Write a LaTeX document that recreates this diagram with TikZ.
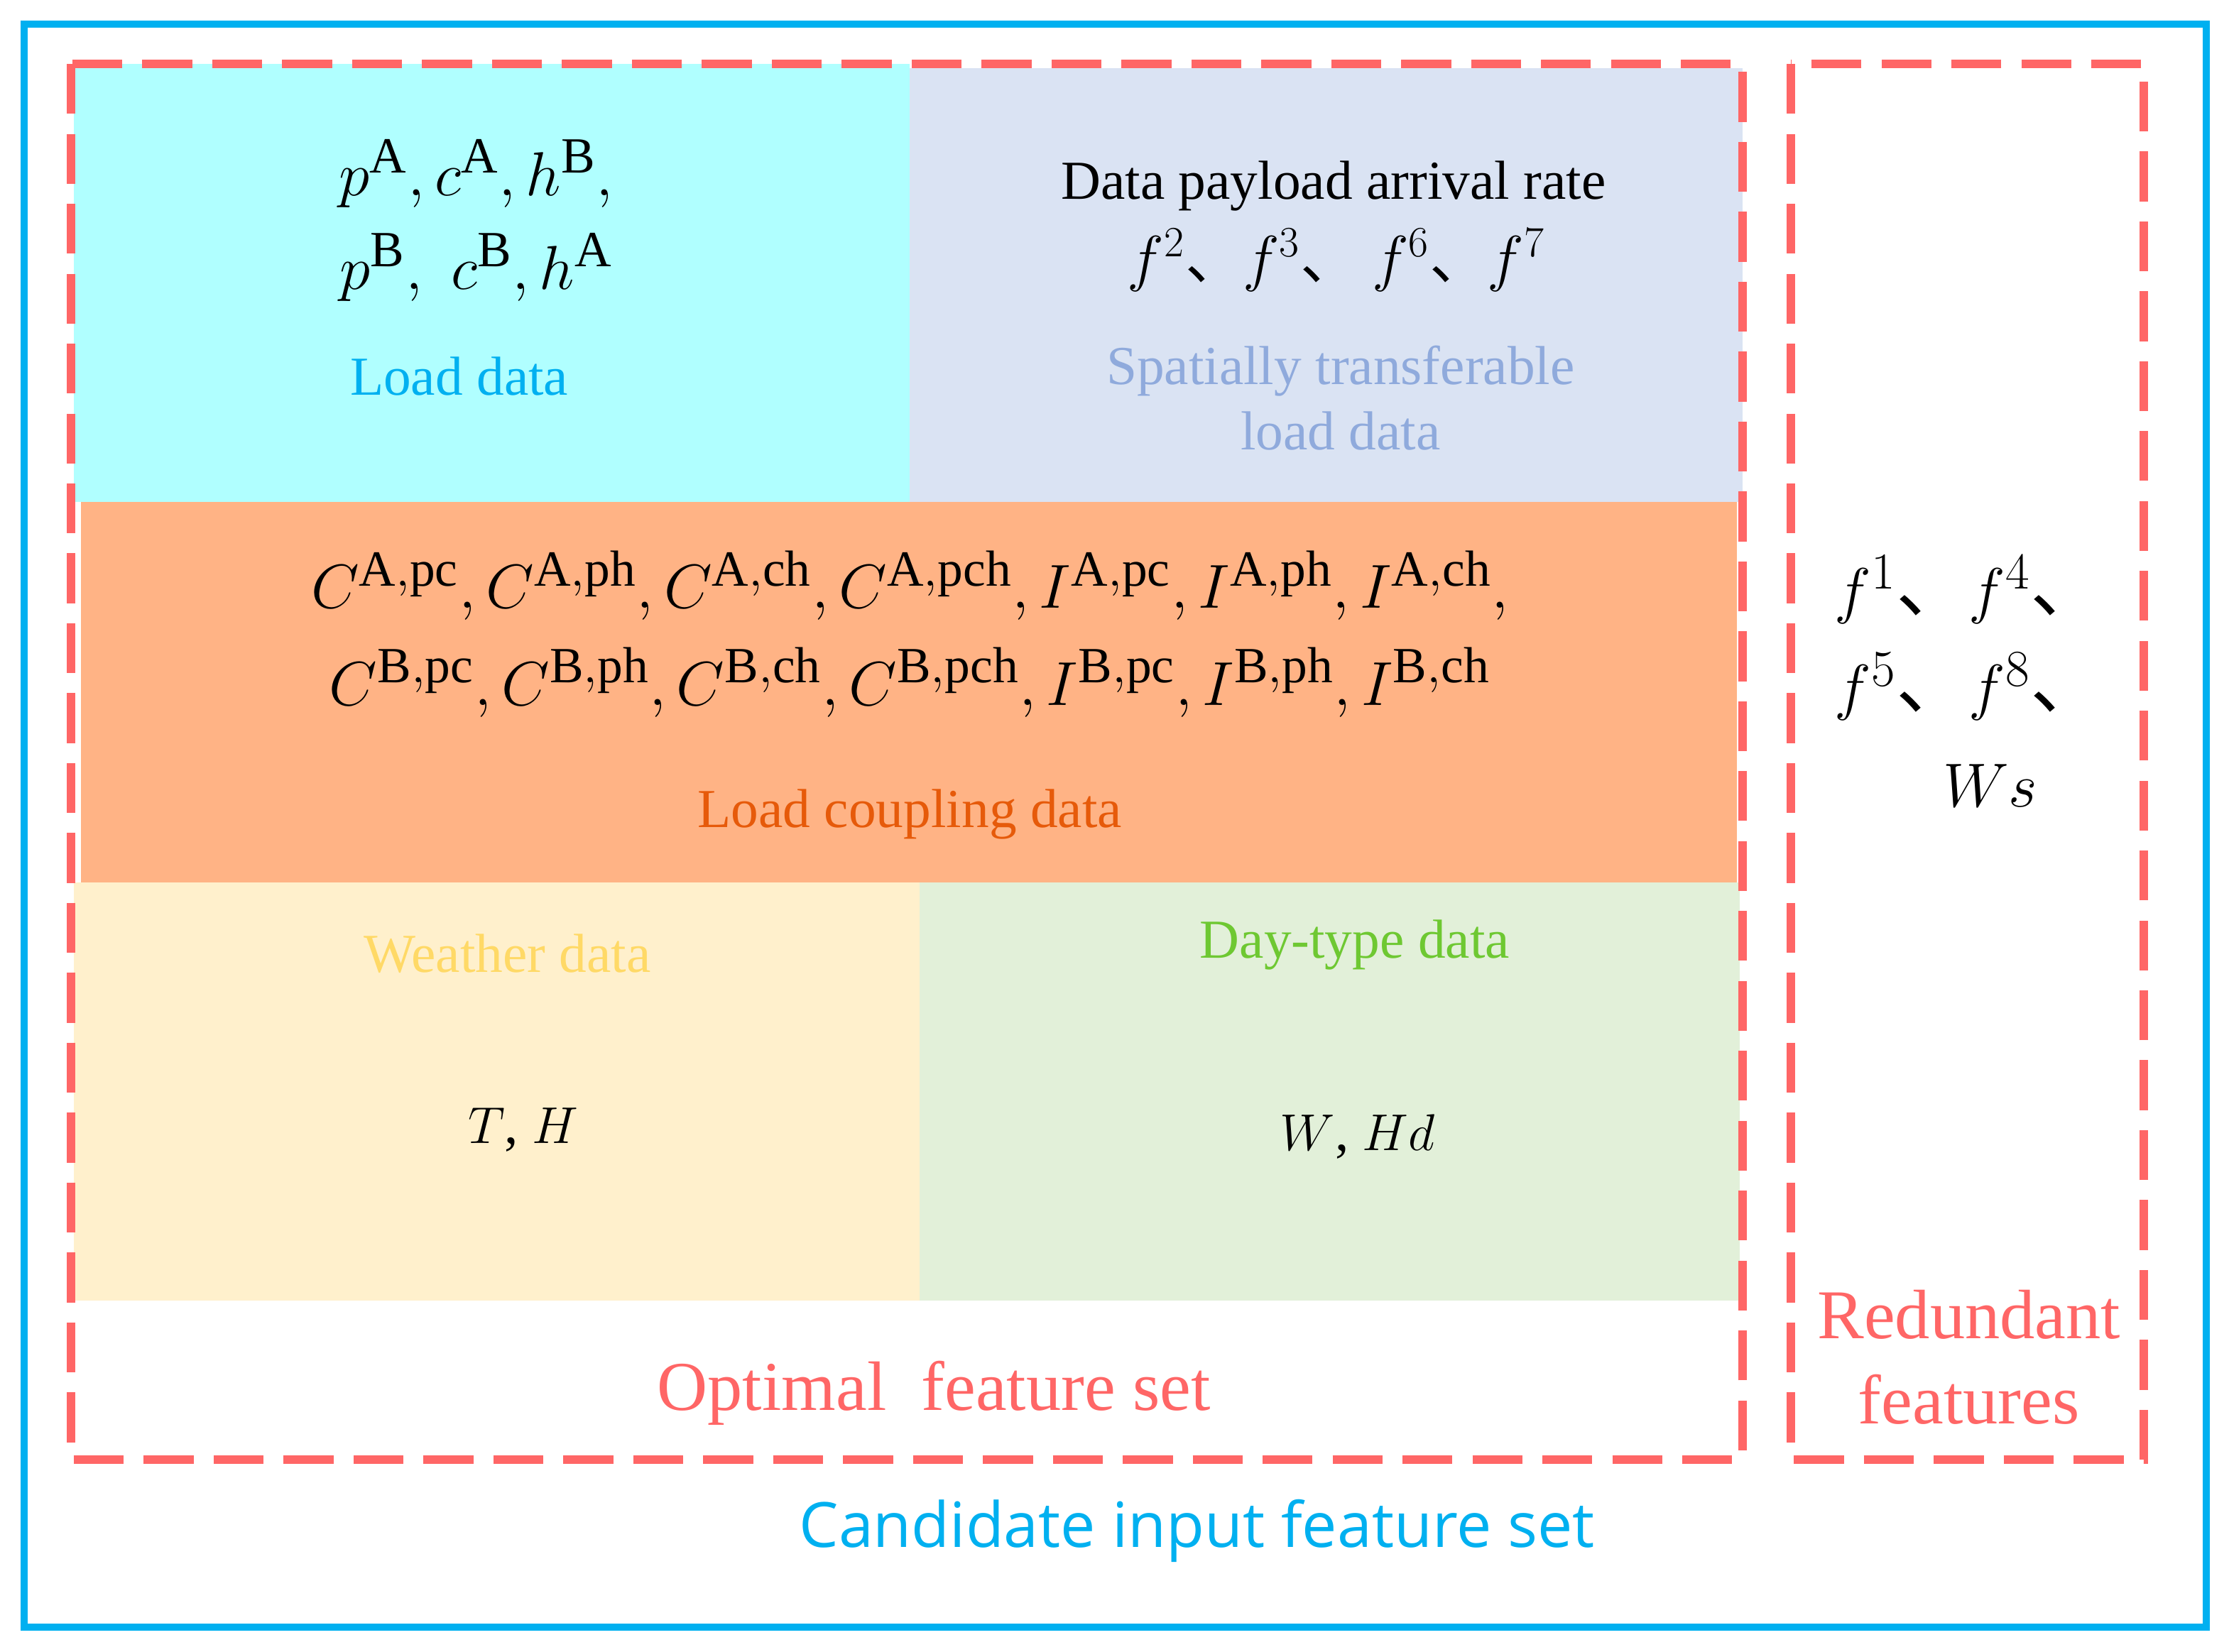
\documentclass[tikz,border=0pt]{standalone}
\usepackage{amsmath}
\usepackage{fontspec}
\setmainfont{Liberation Serif}
\newfontfamily\cjk{Noto Sans CJK SC}
\newfontfamily\sansf{Open Sans}
\newcommand{\dun}{\text{\cjk 、}}
\definecolor{cyanbox}{HTML}{B0FFFF}
\definecolor{greybox}{HTML}{DAE3F3}
\definecolor{orangebox}{HTML}{FFB385}
\definecolor{yellowbox}{HTML}{FFF0CC}
\definecolor{greenbox}{HTML}{E2F0D9}
\definecolor{dred}{HTML}{FF6666}
\definecolor{cblue}{HTML}{00B0F0}
\definecolor{stblue}{HTML}{8FAADC}
\definecolor{lcorange}{HTML}{E65A0A}
\definecolor{wyellow}{HTML}{FFD966}
\definecolor{dgreen}{HTML}{6EC832}
\begin{document}
\begin{tikzpicture}[x=0.02cm,y=-0.02cm,
  reddash/.style={draw=dred,line width=3.4pt,dash pattern=on 20pt off 8pt},
  lbl/.style={font=\fontsize{22}{26}\selectfont,align=center},
  mth/.style={font=\fontsize{29}{33}\selectfont}]
\useasboundingbox (0,0) rectangle (1568,1162);
\fill[cyanbox] (52,45) rectangle (640,353);
\fill[greybox] (640,48) rectangle (1226,353);
\fill[orangebox] (57,353) rectangle (1222,621);
\fill[yellowbox] (52,621) rectangle (647,915);
\fill[greenbox] (647,621) rectangle (1224,915);
\draw[cblue,line width=2.8pt] (17,17) rectangle (1552,1145);
\draw[reddash] (50,45) rectangle (1226,1027);
\draw[reddash] (1260,45) rectangle (1508,1027);
\node[mth] (m1) at (335,122) {$p^{\mathrm{A}}, c^{\mathrm{A}}, h^{\mathrm{B}},$};
\node[mth] (m2) at (335,188) {$p^{\mathrm{B}},\ c^{\mathrm{B}}, h^{\mathrm{A}}$};
\node[lbl,text=cblue] (ld) at (323,265) {Load data};
\node[lbl] (dp) at (938,131) {Data payload arrival rate};
\node[font=\fontsize{23}{26}\selectfont] (fs) at (940,183) {$f^{2}\dun f^{3}\dun\ f^{6}\dun f^{7}$};
\node[lbl,text=stblue] (st) at (943,280) {Spatially transferable\\load data};
\node[mth] (c1) at (640,412) {$C^{\mathrm{A,pc}}, C^{\mathrm{A,ph}}, C^{\mathrm{A,ch}}, C^{\mathrm{A,pch}}, I^{\mathrm{A,pc}}, I^{\mathrm{A,ph}}, I^{\mathrm{A,ch}},$};
\node[mth] (c2) at (640,480) {$C^{\mathrm{B,pc}}, C^{\mathrm{B,ph}}, C^{\mathrm{B,ch}}, C^{\mathrm{B,pch}}, I^{\mathrm{B,pc}}, I^{\mathrm{B,ph}}, I^{\mathrm{B,ch}}$};
\node[lbl,text=lcorange] (lc) at (640,573) {Load coupling data};
\node[lbl,text=wyellow] (wd) at (357,671) {Weather data};
\node[lbl] (th) at (368,795) {$T$, $H$};
\node[lbl,text=dgreen] (dt) at (953,665) {Day-type data};
\node[lbl] (wh) at (955,800) {$W$, $Hd$};
\node[mth] (r1) at (1385,415) {$f^{1}\dun f^{4}\dun$};
\node[mth] (r2) at (1385,483) {$f^{5}\dun f^{8}\dun$};
\node[mth] (r3) at (1400,553) {$Ws$};
\node[align=center,text=dred,font=\fontsize{28}{34}\selectfont] (rf) at (1385,955) {Redundant\\features};
\node[text=dred,font=\fontsize{28}{34}\selectfont] (of) at (657,980) {Optimal\ \ feature set};
\node[text=cblue,font=\sansf\fontsize{25}{30}\selectfont] (ci) at (842,1077) {Candidate input feature set};
\end{tikzpicture}
\end{document}
